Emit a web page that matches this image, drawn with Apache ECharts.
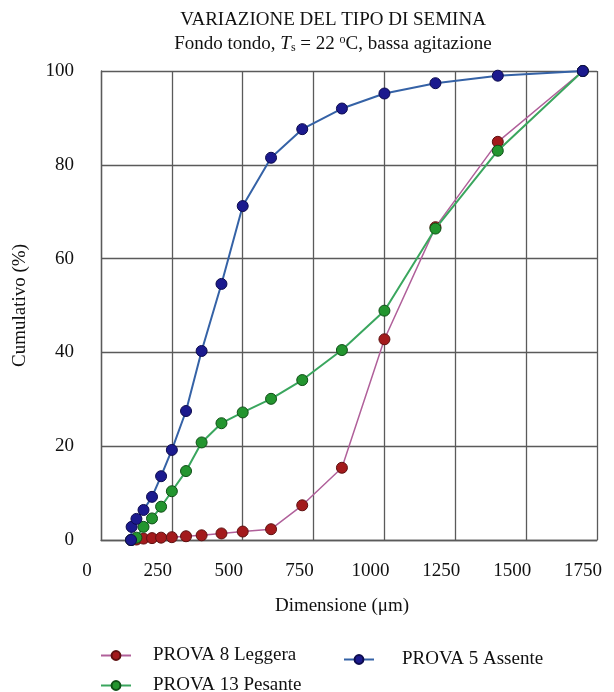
<!DOCTYPE html>
<html>
<head>
<meta charset="utf-8">
<script src="https://cdn.jsdelivr.net/npm/echarts@6/dist/echarts.min.js"></script>
<style>
  html, body { margin: 0; padding: 0; background: #ffffff; }
  #chart { width: 614px; height: 692px; }
</style>
</head>
<body>
<div id="chart"></div>
<script>
// ---- data ----
const titleText = 'VARIAZIONE DEL TIPO DI SEMINA';
const xName = 'Dimensione (μm)';
const yName = 'Cumulativo (%)';
const xTicks = [0, 250, 500, 750, 1000, 1250, 1500, 1750];
const yTicks = [0, 20, 40, 60, 80, 100];

const seriesNames = ['PROVA 8 Leggera', 'PROVA 5 Assente', 'PROVA 13 Pesante'];

const sizesAssente = [106, 108, 125, 150, 180, 212, 250, 300, 355, 425, 500, 600, 710, 850, 1000, 1180, 1400, 1700];
const assente      = [0, 2.8, 4.5, 6.4, 9.2, 13.6, 19.2, 27.5, 40.3, 54.6, 71.2, 81.5, 87.6, 92.0, 95.2, 97.4, 99.0, 100];

const sizes    = [106, 125, 150, 180, 212, 250, 300, 355, 425, 500, 600, 710, 850, 1000, 1180, 1400, 1700];
const leggera  = [0, 0.1, 0.3, 0.4, 0.5, 0.6, 0.8, 1.0, 1.4, 1.8, 2.3, 7.4, 15.4, 42.8, 66.7, 84.9, 100];
const pesante  = [0, 0.5, 2.8, 4.6, 7.1, 10.4, 14.7, 20.8, 24.9, 27.2, 30.1, 34.1, 40.5, 48.9, 66.4, 83.0, 100];

// ---- chart ----
const FONT = '"Liberation Serif", "Times New Roman", serif';
const GRID_COLOR = '#5a5a5a';

function pairs(xs, ys) { return xs.map((x, i) => [x, ys[i]]); }

const styles = {
  'PROVA 8 Leggera':  { line: '#b0609a', fill: '#a31a1c', border: '#5e1010', width: 1.5 },
  'PROVA 5 Assente':  { line: '#3562a6', fill: '#1b1a8e', border: '#0c0b4e', width: 2 },
  'PROVA 13 Pesante': { line: '#3aa65e', fill: '#23952f', border: '#0e4f16', width: 2 }
};

function mkSeries(name, data, z) {
  const s = styles[name];
  return {
    name: name, type: 'line', data: data, z: z,
    symbol: 'circle', symbolSize: 11,
    lineStyle: { color: s.line, width: s.width },
    itemStyle: { color: s.fill, borderColor: s.border, borderWidth: 1 },
    emphasis: { disabled: true }
  };
}

function mkLegend(name, left, top, pad) {
  return {
    data: [name], left: left, top: top,
    itemWidth: 30, itemHeight: 11,
    textStyle: { fontFamily: FONT, fontSize: 19, color: '#111', padding: [0, 0, 0, pad] },
    selectedMode: false
  };
}

const chart = echarts.init(document.getElementById('chart'), null, { renderer: 'canvas' });
chart.setOption({
  backgroundColor: '#ffffff',
  animation: false,
  title: {
    text: titleText,
    subtext: 'Fondo tondo, {i|T}{sub|s} = 22 {sup|o}C, bassa agitazione',
    left: 328, top: 6, textAlign: 'center',
    itemGap: 4,
    textStyle: { fontFamily: FONT, fontSize: 19, fontWeight: 'normal', color: '#111' },
    subtextStyle: {
      fontFamily: FONT, fontSize: 19, color: '#111',
      rich: {
        i: { fontFamily: FONT, fontSize: 19, fontStyle: 'italic', color: '#111' },
        sub: { fontFamily: FONT, fontSize: 12, color: '#111', verticalAlign: 'bottom', padding: [8, 0, 0, 0] },
        sup: { fontFamily: FONT, fontSize: 12, color: '#111', verticalAlign: 'top', padding: [0, 0, 8, 0] }
      }
    }
  },
  legend: [
    mkLegend(seriesNames[0], 95, 641, 17),
    mkLegend(seriesNames[1], 338, 645, 23),
    mkLegend(seriesNames[2], 95, 671, 17)
  ],
  grid: { left: 101, right: 17, top: 71, bottom: 152, containLabel: false },
  xAxis: {
    type: 'value', min: xTicks[0], max: xTicks[xTicks.length - 1], interval: 250,
    name: xName, nameLocation: 'middle', nameGap: 57,
    nameTextStyle: { fontFamily: FONT, fontSize: 19, color: '#111', padding: [0, 14, 0, 0] },
    axisLine: { show: true, lineStyle: { color: GRID_COLOR, width: 1.3 } },
    axisTick: { show: false },
    splitLine: { show: true, lineStyle: { color: GRID_COLOR, width: 1.3 } },
    axisLabel: {
      fontFamily: FONT, fontSize: 19, color: '#111', margin: 22,
      padding: [0, 28, 0, 0], showMinLabel: true, showMaxLabel: true,
      formatter: function (v) { return String(v); }
    }
  },
  yAxis: {
    type: 'value', min: yTicks[0], max: yTicks[yTicks.length - 1], interval: 20,
    name: yName, nameLocation: 'middle', nameGap: 71,
    nameTextStyle: { fontFamily: FONT, fontSize: 19, color: '#111' },
    axisLine: { show: true, lineStyle: { color: GRID_COLOR, width: 1.3 } },
    axisTick: { show: false },
    splitLine: { show: true, lineStyle: { color: GRID_COLOR, width: 1.3 } },
    axisLabel: { fontFamily: FONT, fontSize: 19, color: '#111', margin: 27, formatter: function (v) { return String(v); } }
  },
  series: [
    mkSeries(seriesNames[0], pairs(sizes, leggera), 3),
    mkSeries(seriesNames[2], pairs(sizes, pesante), 4),
    mkSeries(seriesNames[1], pairs(sizesAssente, assente), 5)
  ]
});
</script>
</body>
</html>
